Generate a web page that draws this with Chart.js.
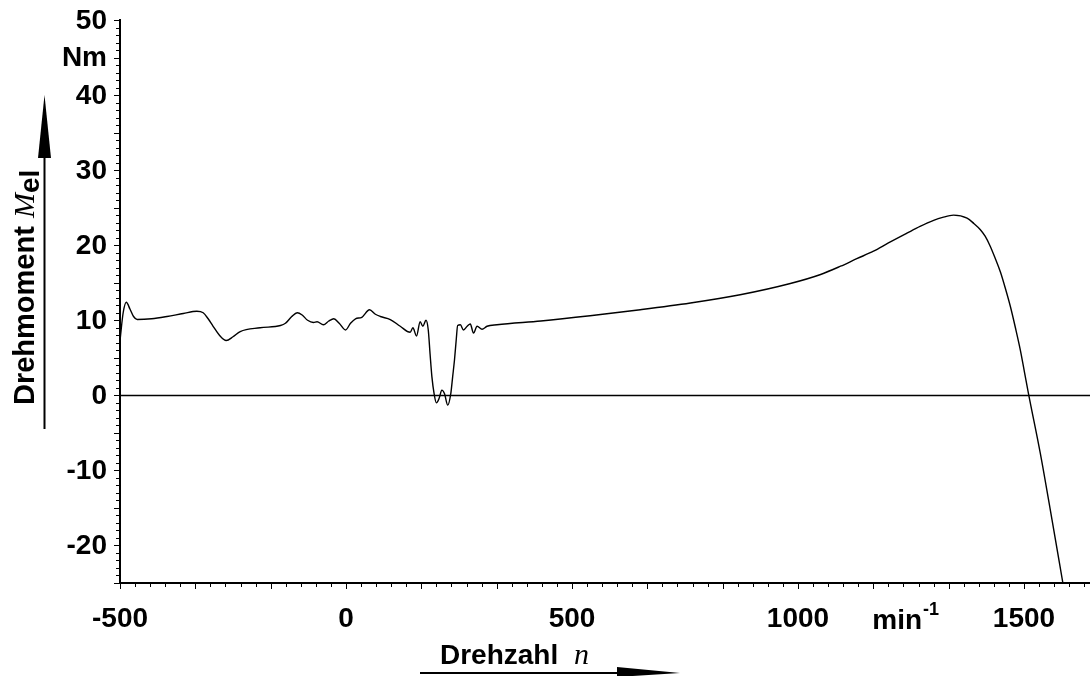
<!DOCTYPE html>
<html>
<head>
<meta charset="utf-8">
<script src="https://cdn.jsdelivr.net/npm/chart.js@4/dist/chart.umd.min.js"></script>
<style>
    body { margin: 0; background: #fff; }
    canvas { display: block; }
</style>
</head>
<body>
<canvas id="torqueChart" width="1090" height="676"></canvas>
<script>
// Drehzahl n (min^-1) and Drehmoment M_el (Nm)
const speed = [
    -500, -493, -486, -478, -470, -462, -430, -396, -360, -330,
    -316, -305, -294, -280, -265, -250, -234, -190, -145, -134,
    -120, -108, -97, -85, -72, -64, -50, -38, -27, -15,
    -1, 10, 21, 35, 52, 65, 76, 98, 120, 142,
    148, 156, 164, 170, 177, 182, 186, 190, 195, 200,
    206, 212, 218, 225, 232, 236, 240, 244, 247, 253,
    260, 268, 275, 282, 290, 301, 312, 334, 431, 540,
    651, 762, 872, 983, 1050, 1094, 1130, 1167, 1200, 1241,
    1270, 1300, 1320, 1344, 1374, 1389, 1403, 1414, 1425, 1436,
    1448, 1459, 1470, 1481, 1492, 1501, 1510, 1536, 1562, 1586
];
const torque = [
    7.3, 11.0, 12.4, 11.5, 10.5, 10.1, 10.2, 10.5, 10.9, 11.2,
    11.0, 10.2, 9.2, 8.0, 7.3, 7.8, 8.5, 9.0, 9.3, 9.6,
    10.5, 11.0, 10.7, 10.0, 9.7, 9.8, 9.4, 9.9, 10.2, 9.6,
    8.7, 9.6, 10.2, 10.4, 11.4, 10.8, 10.5, 10.1, 9.2, 8.4,
    9.0, 7.9, 9.8, 9.2, 10.0, 8.7, 5.5, 2.5, 0.2, -1.0,
    -0.4, 0.7, 0.2, -1.3, 0.3, 2.5, 4.7, 7.5, 9.3, 9.4,
    8.7, 9.2, 9.5, 8.3, 9.2, 8.8, 9.2, 9.4, 9.9, 10.6,
    11.4, 12.3, 13.4, 14.9, 16.1, 17.2, 18.2, 19.2, 20.3, 21.6,
    22.5, 23.3, 23.7, 24.0, 23.6, 22.9, 22.1, 21.2, 19.9, 18.3,
    16.4, 14.2, 11.8, 9.0, 6.0, 3.1, 0.2, -7.7, -16.6, -25
];

// tick labels
const xLabelValues = [-500, 0, 500, 1000, 1500];
const xLabelTexts = ['-500', '0', '500', '1000', '1500'];
const xUnitValue = 1237;
const yLabelValues = [-20, -10, 0, 10, 20, 30, 40, 45, 50];
const yLabelTexts = ['-20', '-10', '0', '10', '20', '30', '40', 'Nm', '50'];

const X_MIN = -500, X_MAX = 1646;
const Y_MIN = -25, Y_MAX = 50;

const sansBold = "bold 28px 'Liberation Sans', Arial, sans-serif";
const serifItalic = "italic 30px 'Liberation Serif', 'Times New Roman', serif";

const data = {
    datasets: [
        {
            label: 'M_el',
            data: speed.map((n, i) => ({x: n, y: torque[i]})),
            borderColor: '#000',
            borderWidth: 1.4,
            pointRadius: 0,
            fill: false,
            cubicInterpolationMode: 'monotone'
        }
    ]
};

// zero line across the plot
const zeroLine = {
    id: 'zero_line',
    beforeDatasetsDraw: (chart) => {
        const {ctx, chartArea, scales: {y}} = chart;
        const py = Math.round(y.getPixelForValue(0)) + 0.5;
        ctx.save();
        ctx.strokeStyle = '#000';
        ctx.lineWidth = 1.5;
        ctx.beginPath();
        ctx.moveTo(chartArea.left, py);
        ctx.lineTo(chartArea.right, py);
        ctx.stroke();
        ctx.restore();
    }
};

// tick marks, labels, axis titles and arrows
const axisDecor = {
    id: 'axis_decor',
    afterDraw: (chart) => {
        const {ctx, chartArea, scales: {x, y}} = chart;
        ctx.save();
        ctx.strokeStyle = '#000';
        ctx.fillStyle = '#000';
        ctx.lineWidth = 1;

        // y ticks, every 1 Nm, longer every 5
        for (let v = Y_MIN; v <= Y_MAX; v++) {
            const py = Math.round(y.getPixelForValue(v)) + 0.5;
            const len = v % 5 === 0 ? 6 : 4;
            ctx.beginPath();
            ctx.moveTo(chartArea.left - len, py);
            ctx.lineTo(chartArea.left, py);
            ctx.stroke();
        }
        // x ticks, 15 per 500, longer every 5th
        const step = 500 / 15;
        for (let k = 0; X_MIN + k * step <= X_MAX; k++) {
            const px = Math.round(x.getPixelForValue(X_MIN + k * step)) + 0.5;
            const len = k % 5 === 0 ? 6 : 4;
            ctx.beginPath();
            ctx.moveTo(px, chartArea.bottom);
            ctx.lineTo(px, chartArea.bottom + len);
            ctx.stroke();
        }

        ctx.font = sansBold;
        ctx.textBaseline = 'middle';
        ctx.textAlign = 'right';
        yLabelValues.forEach((v, i) => {
            ctx.fillText(yLabelTexts[i], 107, y.getPixelForValue(v) + 1);
        });
        ctx.textAlign = 'center';
        xLabelValues.forEach((v, i) => {
            ctx.fillText(xLabelTexts[i], x.getPixelForValue(v), 619);
        });

        // unit min^-1
        ctx.textBaseline = 'alphabetic';
        ctx.textAlign = 'left';
        const minW = ctx.measureText('min').width;
        const supFont = "bold 18px 'Liberation Sans', Arial, sans-serif";
        ctx.font = supFont;
        const supW = ctx.measureText('-1').width;
        let ux = x.getPixelForValue(xUnitValue) - (minW + supW) / 2;
        ctx.font = sansBold;
        ctx.fillText('min', ux, 629);
        ctx.font = supFont;
        ctx.fillText('-1', ux + minW + 1, 615);

        // x title
        ctx.font = sansBold;
        ctx.fillText('Drehzahl', 440, 664);
        ctx.font = serifItalic;
        ctx.fillText('n', 574, 664);
        ctx.lineWidth = 2;
        ctx.beginPath();
        ctx.moveTo(420, 673);
        ctx.lineTo(640, 673);
        ctx.stroke();
        ctx.beginPath();
        ctx.moveTo(680, 673);
        ctx.lineTo(617, 667);
        ctx.lineTo(617, 677);
        ctx.closePath();
        ctx.fill();

        // y title, rotated
        ctx.save();
        ctx.translate(34, 405);
        ctx.rotate(-Math.PI / 2);
        ctx.font = "bold 29px 'Liberation Sans', Arial, sans-serif";
        ctx.fillText('Drehmoment', 0, 0);
        let tx = ctx.measureText('Drehmoment ').width;
        ctx.font = serifItalic;
        ctx.fillText('M', tx, 0);
        tx += ctx.measureText('M').width;
        ctx.font = "bold 28px 'Liberation Sans', Arial, sans-serif";
        ctx.fillText('el', tx, 5);
        ctx.restore();

        ctx.beginPath();
        ctx.moveTo(44.5, 429);
        ctx.lineTo(44.5, 150);
        ctx.stroke();
        ctx.beginPath();
        ctx.moveTo(44.5, 95);
        ctx.lineTo(38, 158);
        ctx.lineTo(51, 158);
        ctx.closePath();
        ctx.fill();

        ctx.restore();
    }
};

let options = {
    responsive: false,
    animation: false,
    devicePixelRatio: 1,
    layout: {
        padding: {left: 120, top: 20, right: 0, bottom: 93}
    },
    plugins: {
        legend: {display: false},
        tooltip: {enabled: false}
    },
    scales: {
        x: {
            type: 'linear',
            min: X_MIN,
            max: X_MAX,
            ticks: {display: false},
            grid: {display: false, drawTicks: false},
            border: {display: true, color: '#000', width: 2}
        },
        y: {
            min: Y_MIN,
            max: Y_MAX,
            ticks: {display: false},
            grid: {display: false, drawTicks: false},
            border: {display: true, color: '#000', width: 2}
        }
    }
};

let ctx = document.getElementById('torqueChart').getContext('2d');

let torqueChart = new Chart(
    ctx,
    {
        type: 'line',
        data: data,
        options: options,
        plugins: [zeroLine, axisDecor]
    }
);
</script>
</body>
</html>
